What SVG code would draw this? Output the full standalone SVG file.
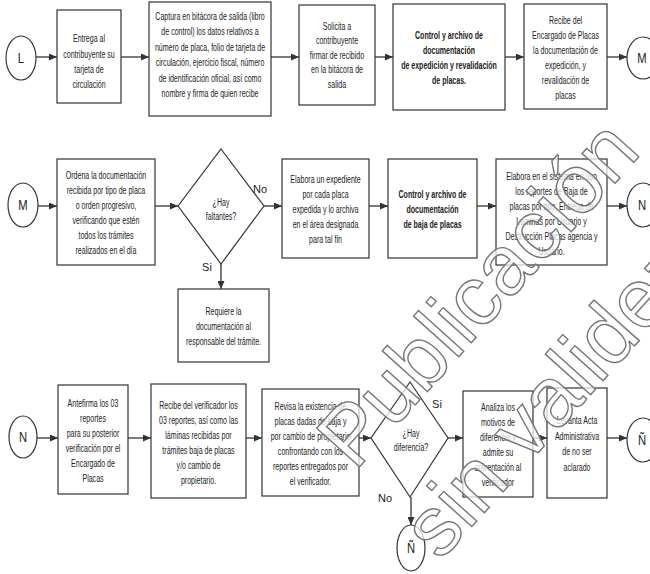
<svg xmlns="http://www.w3.org/2000/svg" width="650" height="574" viewBox="0 0 650 574">
<defs>
<style>
.box{fill:#fff;stroke:#333;stroke-width:1.2}
.t{font-family:"Liberation Sans",Arial,sans-serif;font-size:11px;fill:#222;text-anchor:middle}
.b{font-weight:bold}
.cl{font-size:15px}
.lbl{font-family:"Liberation Sans",Arial,sans-serif;font-size:11px;fill:#222;text-anchor:middle}
.c{fill:none;stroke:#333;stroke-width:1.3;marker-end:url(#ah)}
.wm{font-family:"Liberation Sans",Arial,sans-serif;font-size:84px;fill:#fff;fill-opacity:0.72;stroke:#777;stroke-width:1.4}
</style>
<marker id="ah" viewBox="0 0 8 7" refX="8" refY="3.5" markerWidth="8" markerHeight="7" markerUnits="userSpaceOnUse" orient="auto">
<path d="M0,0 L8,3.5 L0,7 z" fill="#333"/>
</marker>
</defs>
<rect width="650" height="574" fill="#fff"/>

<g id="connectors">
<line class="c" x1="36" y1="57" x2="57" y2="57"/>
<line class="c" x1="121" y1="57" x2="149" y2="57"/>
<line class="c" x1="271" y1="57" x2="299" y2="57"/>
<line class="c" x1="375" y1="57" x2="393" y2="57"/>
<line class="c" x1="505" y1="57" x2="524" y2="57"/>
<line class="c" x1="607" y1="57" x2="627" y2="57"/>

<line class="c" x1="38" y1="206" x2="57" y2="206"/>
<line class="c" x1="155" y1="206" x2="178" y2="206"/>
<line class="c" x1="264" y1="206" x2="282" y2="206"/>
<line class="c" x1="369" y1="206" x2="388" y2="206"/>
<line class="c" x1="477" y1="206" x2="496" y2="206"/>
<line class="c" x1="607" y1="206" x2="627" y2="206"/>
<line class="c" x1="221" y1="264" x2="221" y2="289"/>

<line class="c" x1="37" y1="438" x2="58" y2="438"/>
<line class="c" x1="128" y1="438" x2="151" y2="438"/>
<line class="c" x1="246" y1="438" x2="262" y2="438"/>
<line class="c" x1="359" y1="438" x2="371" y2="438"/>
<line class="c" x1="448" y1="438" x2="463" y2="438"/>
<line class="c" x1="533" y1="438" x2="547" y2="438"/>
<line class="c" x1="607" y1="438" x2="627" y2="438"/>
<line class="c" x1="411" y1="497" x2="411" y2="525"/>
</g>

<g id="labels">
<text class="lbl" x="260" y="193">No</text>
<text class="lbl" x="207" y="271">Si</text>
<text class="lbl" x="437" y="408">Si</text>
<text class="lbl" x="385" y="502">No</text>
</g>

<g id="L">
<ellipse class="box" cx="21" cy="58" rx="15" ry="22"/>
<g transform="translate(21,0) scale(0.75,1)"><text class="t cl" x="0" y="63">L</text></g>
</g>
<g id="n1">
<rect class="box" x="57" y="10" width="64" height="93"/>
<g transform="translate(89,0) scale(0.64,1)"><text class="t">
<tspan x="0" y="42">Entrega al</tspan><tspan x="0" y="58">contribuyente su</tspan><tspan x="0" y="73">tarjeta de</tspan><tspan x="0" y="88">circulación</tspan></text></g>
</g>
<g id="n2">
<rect class="box" x="149" y="2" width="122" height="114"/>
<g transform="translate(210,0) scale(0.64,1)"><text class="t">
<tspan x="0" y="20">Captura en bitácora de salida (libro</tspan><tspan x="0" y="35.5">de control) los datos relativos a</tspan><tspan x="0" y="51">número de placa, folio de tarjeta de</tspan><tspan x="0" y="66.5">circulación, ejercicio fiscal, número</tspan><tspan x="0" y="82">de identificación oficial, así como</tspan><tspan x="0" y="97.5">nombre y firma de quien recibe</tspan></text></g>
</g>
<g id="n3">
<rect class="box" x="299" y="5" width="76" height="100"/>
<g transform="translate(337,0) scale(0.64,1)"><text class="t">
<tspan x="0" y="30">Solicita a</tspan><tspan x="0" y="44.5">contribuyente</tspan><tspan x="0" y="59">firmar de recibido</tspan><tspan x="0" y="73.5">en la bitácora de</tspan><tspan x="0" y="88">salida</tspan></text></g>
</g>
<g id="n4">
<rect class="box" x="393" y="4" width="112" height="106"/>
<g transform="translate(449,0) scale(0.64,1)"><text class="t b">
<tspan x="0" y="39">Control y archivo de</tspan><tspan x="0" y="54">documentación</tspan><tspan x="0" y="69">de expedición y revalidación</tspan><tspan x="0" y="84">de placas.</tspan></text></g>
</g>
<g id="n5">
<rect class="box" x="524" y="4" width="83" height="105"/>
<g transform="translate(565.5,0) scale(0.64,1)"><text class="t">
<tspan x="0" y="24">Recibe del</tspan><tspan x="0" y="39">Encargado de Placas</tspan><tspan x="0" y="54">la documentación de</tspan><tspan x="0" y="69">expedición, y</tspan><tspan x="0" y="84.5">revalidación de</tspan><tspan x="0" y="99">placas</tspan></text></g>
</g>
<g id="M1">
<ellipse class="box" cx="643" cy="58" rx="16" ry="21"/>
<g transform="translate(642,0) scale(0.75,1)"><text class="t cl" x="0" y="63">M</text></g>
</g>

<g id="M2">
<ellipse class="box" cx="23" cy="205" rx="15" ry="22"/>
<g transform="translate(23,0) scale(0.75,1)"><text class="t cl" x="0" y="210">M</text></g>
</g>
<g id="n6">
<rect class="box" x="57" y="159" width="98" height="106"/>
<g transform="translate(106,0) scale(0.64,1)"><text class="t">
<tspan x="0" y="179.5">Ordena la documentación</tspan><tspan x="0" y="194.5">recibida por tipo de placa</tspan><tspan x="0" y="209.5">o orden progresivo,</tspan><tspan x="0" y="224.5">verificando que estén</tspan><tspan x="0" y="239.5">todos los trámites</tspan><tspan x="0" y="254.5">realizados en el día</tspan></text></g>
</g>
<g id="d1">
<polygon class="box" points="221,149 264,206 221,264 178,206"/>
<g transform="translate(221,0) scale(0.64,1)"><text class="t">
<tspan x="0" y="206">¿Hay</tspan><tspan x="0" y="220">faltantes?</tspan></text></g>
</g>
<g id="n7">
<rect class="box" x="282" y="159" width="87" height="99"/>
<g transform="translate(325.5,0) scale(0.64,1)"><text class="t">
<tspan x="0" y="183">Elabora un expediente</tspan><tspan x="0" y="198">por cada placa</tspan><tspan x="0" y="213">expedida y lo archiva</tspan><tspan x="0" y="228">en el área designada</tspan><tspan x="0" y="243">para tal fin</tspan></text></g>
</g>
<g id="n8">
<rect class="box" x="388" y="159" width="89" height="99"/>
<g transform="translate(432.5,0) scale(0.64,1)"><text class="t b">
<tspan x="0" y="198">Control y archivo de</tspan><tspan x="0" y="213">documentación</tspan><tspan x="0" y="228">de baja de placas</tspan></text></g>
</g>
<g id="n9">
<rect class="box" x="496" y="159" width="111" height="106"/>
<g transform="translate(551.5,0) scale(0.64,1)"><text class="t">
<tspan x="0" y="180">Elabora en el sistema en uso</tspan><tspan x="0" y="195">los reportes de Baja de</tspan><tspan x="0" y="210">placas por tipo, Entrega de</tspan><tspan x="0" y="225">Laminas por Usuario y</tspan><tspan x="0" y="240">Destrucción Placas agencia y</tspan><tspan x="0" y="255">Usuario.</tspan></text></g>
</g>
<g id="N1">
<ellipse class="box" cx="643" cy="205" rx="16" ry="22"/>
<g transform="translate(642,0) scale(0.75,1)"><text class="t cl" x="0" y="210">N</text></g>
</g>
<g id="n10">
<rect class="box" x="178" y="289" width="91" height="73"/>
<g transform="translate(223.5,0) scale(0.64,1)"><text class="t">
<tspan x="0" y="315">Requiere la</tspan><tspan x="0" y="330">documentación al</tspan><tspan x="0" y="345">responsable del trámite.</tspan></text></g>
</g>

<g id="N2">
<ellipse class="box" cx="23" cy="437" rx="14" ry="21"/>
<g transform="translate(23,0) scale(0.75,1)"><text class="t cl" x="0" y="442">N</text></g>
</g>
<g id="n11">
<rect class="box" x="58" y="385" width="70" height="109"/>
<g transform="translate(93,0) scale(0.64,1)"><text class="t">
<tspan x="0" y="407">Antefirma los 03</tspan><tspan x="0" y="422">reportes</tspan><tspan x="0" y="437">para su posterior</tspan><tspan x="0" y="452">verificación por el</tspan><tspan x="0" y="467">Encargado de</tspan><tspan x="0" y="482">Placas</tspan></text></g>
</g>
<g id="n12">
<rect class="box" x="151" y="384" width="95" height="114"/>
<g transform="translate(198.5,0) scale(0.64,1)"><text class="t">
<tspan x="0" y="409">Recibe del verificador los</tspan><tspan x="0" y="424">03 reportes, así como las</tspan><tspan x="0" y="439">láminas recibidas por</tspan><tspan x="0" y="454">trámites baja de placas</tspan><tspan x="0" y="469">y/o cambio de</tspan><tspan x="0" y="484">propietario.</tspan></text></g>
</g>
<g id="n13">
<rect class="box" x="262" y="389" width="97" height="107"/>
<g transform="translate(310.5,0) scale(0.64,1)"><text class="t">
<tspan x="0" y="410">Revisa la existencia de</tspan><tspan x="0" y="425">placas dadas de baja y</tspan><tspan x="0" y="440">por cambio de propietario</tspan><tspan x="0" y="455">confrontando con los</tspan><tspan x="0" y="470">reportes entregados por</tspan><tspan x="0" y="485">el verificador.</tspan></text></g>
</g>
<g id="d2">
<polygon class="box" points="410,382 448,438 410,497 371,438"/>
<g transform="translate(411,0) scale(0.64,1)"><text class="t">
<tspan x="0" y="437">¿Hay</tspan><tspan x="0" y="451">diferencia?</tspan></text></g>
</g>
<g id="n14">
<rect class="box" x="463" y="391" width="70" height="106"/>
<g transform="translate(498,0) scale(0.64,1)"><text class="t">
<tspan x="0" y="411">Analiza los</tspan><tspan x="0" y="426">motivos de</tspan><tspan x="0" y="441">diferencia y</tspan><tspan x="0" y="456">admite su</tspan><tspan x="0" y="471">solventación al</tspan><tspan x="0" y="486">verificador</tspan></text></g>
</g>
<g id="n15">
<rect class="box" x="547" y="388" width="60" height="110"/>
<g transform="translate(577,0) scale(0.64,1)"><text class="t">
<tspan x="0" y="424.5">Levanta Acta</tspan><tspan x="0" y="440">Administrativa</tspan><tspan x="0" y="455.5">de no ser</tspan><tspan x="0" y="471">aclarado</tspan></text></g>
</g>
<g id="Ñ1">
<ellipse class="box" cx="643" cy="440" rx="16" ry="22"/>
<g transform="translate(642,0) scale(0.75,1)"><text class="t cl" x="0" y="445">Ñ</text></g>
</g>
<g id="Ñ2">
<ellipse class="box" cx="411" cy="548" rx="14" ry="23"/>
<g transform="translate(411,0) scale(0.75,1)"><text class="t cl" x="0" y="553">Ñ</text></g>
</g>

<g id="watermark">
<text class="wm" transform="translate(355,472) rotate(-48)">Publicación</text>
<text class="wm" transform="translate(440,562) rotate(-48)">sin validez</text>
</g>
</svg>
